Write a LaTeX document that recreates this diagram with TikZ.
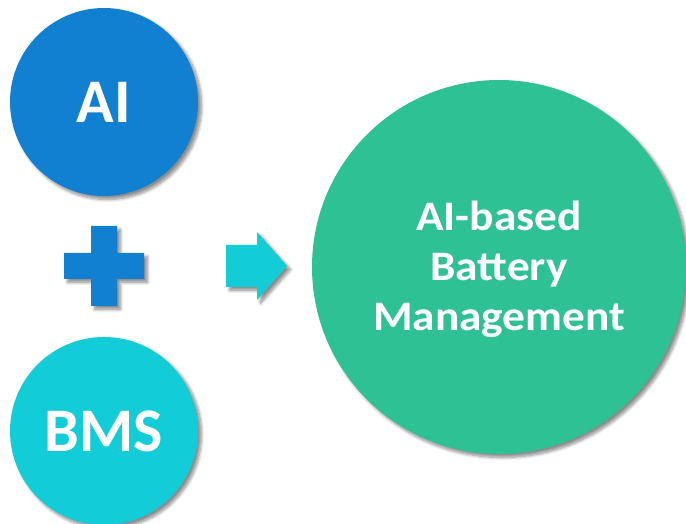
\documentclass[tikz,border=0pt]{standalone}
\usepackage{fontspec}
\setmainfont{Carlito}
\usetikzlibrary{shadows.blur}
\definecolor{aiblue}{RGB}{17,128,208}
\definecolor{bmscyan}{RGB}{18,205,216}
\definecolor{resgreen}{RGB}{46,193,148}
\tikzset{
  softshadow/.style={blur shadow={shadow xshift=3.5pt, shadow yshift=-3.5pt, shadow blur steps=8, shadow blur radius=3pt, shadow opacity=45}},
  disc/.style={circle, inner sep=0pt, text=white, font=\bfseries, softshadow},
}
\begin{document}
\begin{tikzpicture}[x=1pt,y=1pt]
  \useasboundingbox (0,0) rectangle (686,524);
  \clip (0,0) rectangle (686,524);

  % input discs
  \node[disc, fill=aiblue, minimum size=188pt, font=\bfseries\fontsize{62}{62}\selectfont] (ai) at (104,422) {AI};
  \node[disc, fill=bmscyan, minimum size=188pt, font=\bfseries\fontsize{62}{62}\selectfont] (bms) at (104,93) {BMS};

  % result disc; its label sits a little below centre and is set slightly wide
  \node[disc, fill=resgreen, minimum size=374pt,
        label={[text=white, inner sep=0pt, yshift=-3.5pt]center:%
          \scalebox{1.08}[1]{\fontsize{42}{50}\selectfont\bfseries
          \begin{tabular}{@{}c@{}}AI-based\\Battery\\Management\end{tabular}}}]
        (res) at (499,257) {};

  % plus sign
  \coordinate (pc) at (104,258);
  \fill[aiblue, softshadow]
    ([shift={(-13,40)}]pc) -- ([shift={(13,40)}]pc) -- ([shift={(13,13)}]pc) --
    ([shift={(40,13)}]pc) -- ([shift={(40,-13)}]pc) -- ([shift={(13,-13)}]pc) --
    ([shift={(13,-40)}]pc) -- ([shift={(-13,-40)}]pc) -- ([shift={(-13,-13)}]pc) --
    ([shift={(-40,-13)}]pc) -- ([shift={(-40,13)}]pc) -- ([shift={(-13,13)}]pc) -- cycle;

  % block arrow
  \coordinate (tip) at (287,258);
  \fill[bmscyan, softshadow]
    ([shift={(-61,21)}]tip) -- ([shift={(-30,21)}]tip) -- ([shift={(-30,34)}]tip) --
    (tip) -- ([shift={(-30,-34)}]tip) -- ([shift={(-30,-21)}]tip) --
    ([shift={(-61,-21)}]tip) -- cycle;
\end{tikzpicture}
\end{document}
